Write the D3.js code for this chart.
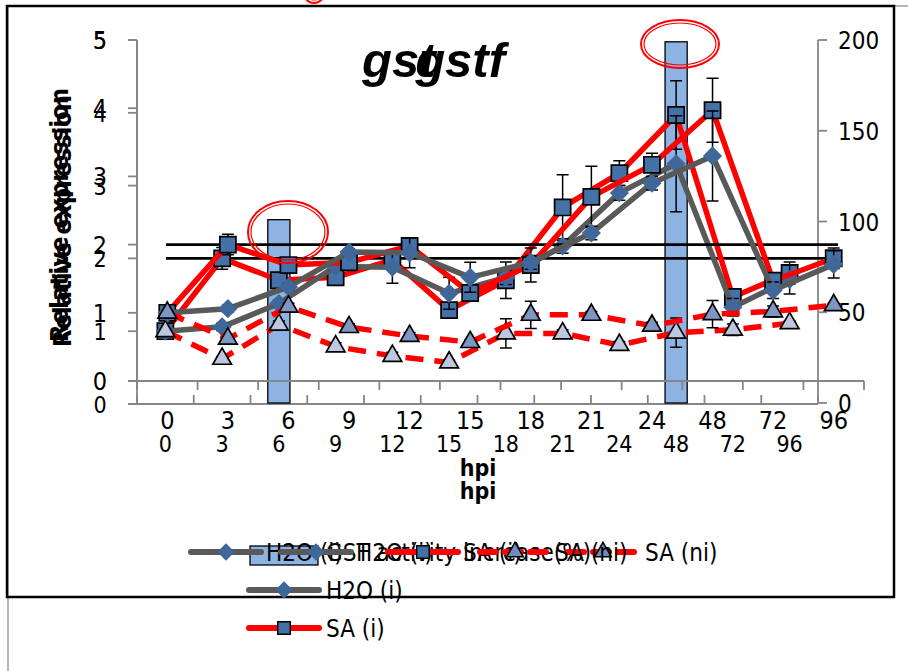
<!DOCTYPE html>
<html>
<head>
<meta charset="utf-8">
<script src="https://cdn.jsdelivr.net/npm/d3@7"></script>
<style>
  html, body { margin: 0; padding: 0; background: #fff; }
  svg { display: block; }
  text { font-family: "DejaVu Sans Condensed", "Liberation Sans", Arial, sans-serif; fill: #000; }
</style>
</head>
<body>
<svg id="chart" width="908" height="671"></svg>
<script>
// gst / gstf — dos copias del mismo gráfico superpuestas (A: sin barras, B: con barras GST)

const HPI = ['0', '3', '6', '9', '12', '15', '18', '21', '24', '48', '72', '96'];
const SA_I = [1.0, 2.0, 1.70, 1.74, 1.98, 1.29, 1.70, 2.70, 3.17, 3.97, 1.47, 1.80];
const SA_I_ERR = [0.02, 0.15, 0.05, 0.08, 0.06, 0.05, 0.25, 0.45, 0.17, 0.47, 0.10, 0.15];
const H2O_I = [1.0, 1.06, 1.38, 1.89, 1.88, 1.52, 1.74, 2.17, 2.90, 3.30, 1.33, 1.71];
const H2O_I_ERR = [0.02, 0.05, 0.05, 0.05, 0.22, 0.22, 0.10, 0.10, 0.10, 0.66, 0.12, 0.20];
const SA_NI = [1.0, 0.62, 1.09, 0.79, 0.66, 0.57, 0.97, 0.97, 0.81, 0.98, 1.02, 1.11];
const SA_NI_ERR = [0.02, 0.03, 0.05, 0.05, 0.05, 0.03, 0.20, 0.05, 0.05, 0.20, 0.08, 0.03];
const GST = [0, 0, 101, 0, 0, 0, 0, 0, 0, 199, 0, 0];
const Y_TICKS = [0, 1, 2, 3, 4, 5];
const Y2_TICKS = [0, 50, 100, 150, 200];
const THRESHOLD = 2;
const LEGEND_A = ['H2O (i)', 'H2O (i)', 'SA (i)', 'SA (ni)'];
const LEGEND_B = ['GST activity increase(%)', 'H2O (i)', 'SA (i)', 'SA (ni)'];

const svg = d3.select('#chart');
const AXIS_GRAY = '#868686', RED = '#FF0000', GRAY = '#595959', BLUE = '#4472A8', DIAMOND = '#3F679A', BAR = '#8DB3E2';

// marcos
svg.append('rect').attr('x', 8).attr('y', 6).attr('width', 940).attr('height', 700)
  .attr('fill', 'none').attr('stroke', AXIS_GRAY).attr('stroke-width', 1.2);
svg.append('rect').attr('x', 7).attr('y', 6).attr('width', 887).attr('height', 591)
  .attr('fill', 'none').attr('stroke', '#000').attr('stroke-width', 2.5);

const symDiamond = d3.symbol().type(d3.symbolDiamond2).size(235);
const symSquare = d3.symbol().type(d3.symbolSquare2).size(330);
const symTri = d3.symbol().type(d3.symbolTriangle2).size(250);

function drawChart(c) {
  const g = svg.append('g');
  const x = d3.scaleBand().domain(HPI).range([c.left, c.right]);
  const y = d3.scaleLinear().domain([0, 5]).range([c.y0, c.top]);
  const cx = d => x(d) + x.bandwidth() / 2;

  // ejes
  g.append('line').attr('x1', c.left).attr('x2', c.left).attr('y1', c.top).attr('y2', c.y0)
    .attr('stroke', AXIS_GRAY).attr('stroke-width', 1.8);
  g.append('line').attr('x1', c.left - 9).attr('x2', c.right).attr('y1', c.y0).attr('y2', c.y0)
    .attr('stroke', AXIS_GRAY).attr('stroke-width', 1.8);
  Y_TICKS.forEach(t => {
    g.append('line').attr('x1', c.left - 9).attr('x2', c.left).attr('y1', y(t)).attr('y2', y(t))
      .attr('stroke', AXIS_GRAY).attr('stroke-width', 1.8);
    g.append('text').attr('x', 100).attr('y', y(t) + 9).attr('text-anchor', 'middle')
      .style('font-size', c.tickFont + 'px').text(t);
  });
  HPI.concat(['end']).forEach((h, i) => {
    const xx = c.left + i * x.step();
    g.append('line').attr('x1', xx).attr('x2', xx).attr('y1', c.y0).attr('y2', c.y0 + c.xTickDir * 9)
      .attr('stroke', AXIS_GRAY).attr('stroke-width', 1.8);
  });
  g.selectAll('text.xl').data(HPI).join('text').attr('class', 'xl')
    .attr('x', d => cx(d)).attr('y', c.xLabelY).attr('text-anchor', 'middle')
    .style('font-size', c.xFont + 'px').text(d => d);
  g.append('text').attr('x', 478).attr('y', c.hpiY).attr('text-anchor', 'middle')
    .style('font-size', '23px').style('font-weight', 'bold').text('hpi');
  g.append('text').attr('transform', `translate(${c.ylabX},${c.ylabMid}) rotate(-90)`)
    .attr('text-anchor', 'middle').style('font-size', '25px').style('font-weight', 'bold')
    .attr('textLength', c.ylabLen).attr('lengthAdjust', 'spacingAndGlyphs')
    .text('Relative expression');
  g.append('text').attr('x', c.titleX).attr('y', 77).attr('text-anchor', c.titleAnchor)
    .style('font-family', '"Liberation Sans", Arial, sans-serif')
    .style('font-size', '49px').style('font-weight', 'bold').style('font-style', 'italic')
    .text(c.title);

  // eje derecho + barras (solo B)
  if (c.bars) {
    const y2 = d3.scaleLinear().domain([0, 200]).range([c.y0 - 1, c.top]);
    g.append('line').attr('x1', c.right).attr('x2', c.right).attr('y1', c.top).attr('y2', c.y0)
      .attr('stroke', AXIS_GRAY).attr('stroke-width', 1.8);
    Y2_TICKS.forEach(t => {
      g.append('line').attr('x1', c.right).attr('x2', c.right + 9).attr('y1', y2(t)).attr('y2', y2(t))
        .attr('stroke', AXIS_GRAY).attr('stroke-width', 1.8);
      g.append('text').attr('x', 838).attr('y', y2(t) + 9).style('font-size', '24px').text(t);
    });
    const bw = x.bandwidth() * 0.39;
    g.selectAll('rect.bar').data(GST.map((v, i) => ({ h: HPI[i], v })).filter(d => d.v > 0))
      .join('rect').attr('class', 'bar')
      .attr('x', d => cx(d.h) - bw / 2).attr('width', bw)
      .attr('y', d => y2(d.v)).attr('height', d => y2(0) - y2(d.v))
      .attr('fill', BAR).attr('stroke', '#000').attr('stroke-width', 1.3);
  }

  // umbral
  g.append('line').attr('x1', 166).attr('x2', 838).attr('y1', y(THRESHOLD)).attr('y2', y(THRESHOLD))
    .attr('stroke', '#000').attr('stroke-width', 2.6);

  const series = [
    { v: SA_I, e: SA_I_ERR, stroke: RED, dash: null, sym: symSquare, fill: BLUE, ms: '#000' },
    { v: H2O_I, e: H2O_I_ERR, stroke: GRAY, dash: null, sym: symDiamond, fill: DIAMOND, ms: 'none' },
    { v: SA_NI, e: SA_NI_ERR, stroke: RED, dash: '18,11', sym: symTri, fill: c.triFill, ms: '#000' },
  ];
  const line = d3.line().x((d, i) => cx(HPI[i])).y(d => y(d));
  series.forEach(s => {
    g.append('path').datum(s.v).attr('d', line).attr('fill', 'none')
      .attr('stroke', s.stroke).attr('stroke-width', 5.5).attr('stroke-dasharray', s.dash)
      .attr('stroke-linejoin', 'round');
    s.v.forEach((v, i) => {
      const xx = cx(HPI[i]), ev = s.e[i];
      g.append('path').attr('d', `M${xx},${y(v - ev)}V${y(v + ev)}M${xx - 6},${y(v + ev)}H${xx + 6}M${xx - 6},${y(v - ev)}H${xx + 6}`)
        .attr('stroke', '#000').attr('stroke-width', 1.5).attr('fill', 'none');
    });
    g.selectAll(null).data(s.v).join('path')
      .attr('transform', (d, i) => `translate(${cx(HPI[i])},${y(d)})`)
      .attr('d', s.sym).attr('fill', s.fill).attr('stroke', s.ms).attr('stroke-width', 1.7);
  });
}

// B: con barras y eje derecho
drawChart({
  left: 137, right: 818, top: 40, y0: 404, xTickDir: -1, bars: true,
  tickFont: 23, xFont: 23, xLabelY: 452, hpiY: 499,
  ylabX: 71, ylabMid: 221, ylabLen: 252,
  title: 'gst', titleX: 362, titleAnchor: 'start', triFill: '#BDC7DF',
});
// A: sin barras
drawChart({
  left: 137, right: 864, top: 40, y0: 381, xTickDir: 1, bars: false,
  tickFont: 25, xFont: 25, xLabelY: 429, hpiY: 476,
  ylabX: 68, ylabMid: 215, ylabLen: 254,
  title: 'gstf', titleX: 505, titleAnchor: 'end', triFill: '#7F96C2',
});

// elipses rojas (anotaciones)
[[288, 232, 40, 31], [680, 44, 39, 24], [314, -18, 14, 21]].forEach(([ex, ey, rx, ry]) => {
  svg.append('ellipse').attr('cx', ex).attr('cy', ey).attr('rx', rx).attr('ry', ry)
    .attr('fill', 'none').attr('stroke', RED).attr('stroke-width', 2);
  svg.append('ellipse').attr('cx', ex).attr('cy', ey).attr('rx', rx - 3).attr('ry', ry - 3)
    .attr('fill', 'none').attr('stroke', RED).attr('stroke-width', 1.2);
});

// leyendas
function legendKey(g, kind, cxk, cyk, triFill) {
  if (kind === 'bar') {
    g.append('rect').attr('x', cxk - 34).attr('y', cyk - 6).attr('width', 68).attr('height', 19)
      .attr('fill', BAR).attr('stroke', '#000').attr('stroke-width', 1.3);
    return;
  }
  const st = kind === 'h2o' ? GRAY : RED;
  g.append('line').attr('x1', cxk - 35).attr('x2', cxk + 35).attr('y1', cyk).attr('y2', cyk)
    .attr('stroke', st).attr('stroke-width', 6).attr('stroke-linecap', 'round')
    .attr('stroke-dasharray', kind === 'sani' ? '16,9' : null);
  const sym = kind === 'h2o' ? d3.symbol().type(d3.symbolDiamond2).size(190)
    : kind === 'sai' ? d3.symbol().type(d3.symbolSquare2).size(200) : d3.symbol().type(d3.symbolTriangle2).size(200);
  g.append('path').attr('transform', `translate(${cxk},${cyk})`).attr('d', sym)
    .attr('fill', kind === 'sani' ? triFill : kind === 'h2o' ? DIAMOND : BLUE)
    .attr('stroke', kind === 'h2o' ? 'none' : '#000').attr('stroke-width', 1.5);
}
const lg = svg.append('g');
// B: columnas
const kindsB = ['bar', 'h2o', 'sai', 'sani'];
const posB = [[284, 552], [284, 590], [284, 628], [603, 552]];
LEGEND_B.forEach((t, i) => {
  legendKey(lg, kindsB[i], posB[i][0], posB[i][1], '#6F8CC0');
  lg.append('text').attr('x', posB[i][0] + 42).attr('y', posB[i][1] + 9).style('font-size', '24px').text(t);
});
// A: una fila
const kindsA = ['h2o', 'h2o', 'sai', 'sani'];
const posA = [226, 316, 423, 515];
LEGEND_A.forEach((t, i) => {
  legendKey(lg, kindsA[i], posA[i], 552, '#6F8CC0');
  lg.append('text').attr('x', posA[i] + 40).attr('y', 561).style('font-size', '24px').text(t);
});
</script>
</body>
</html>
